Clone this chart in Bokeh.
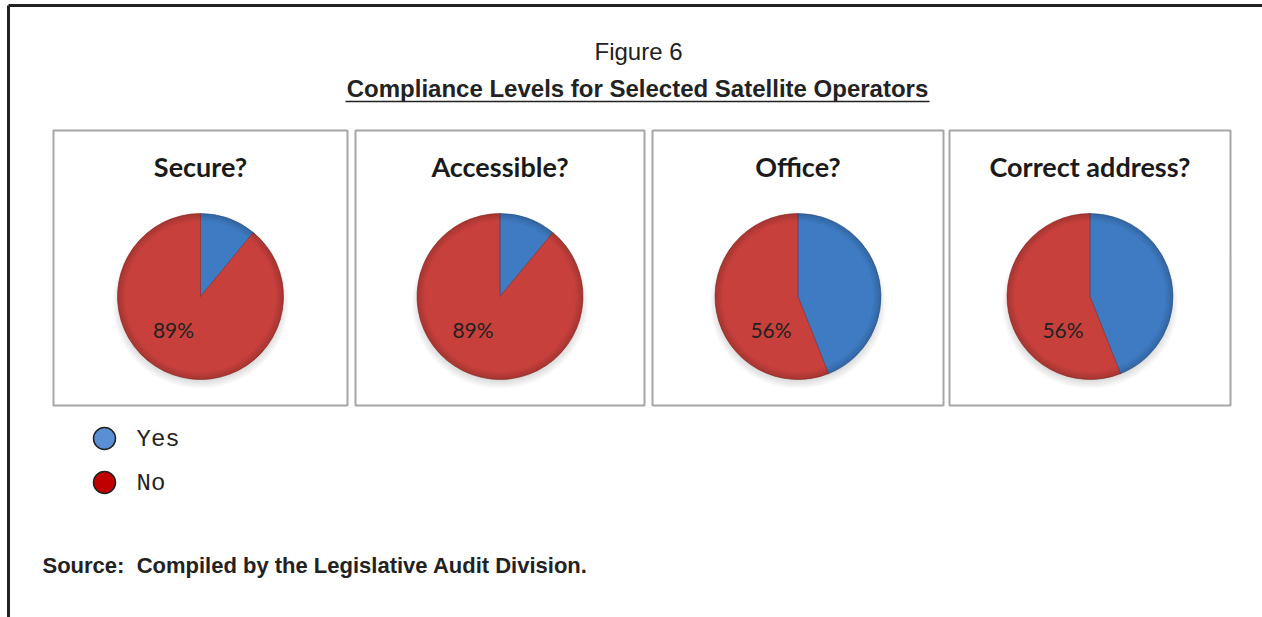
import numpy as np
from bokeh.plotting import figure
from bokeh.models import Range1d
from bokeh.core.properties import value
from bokeh.embed import file_html
from bokeh.resources import INLINE

# ---- data ----
questions = ["Secure?", "Accessible?", "Office?", "Correct address?"]
yes_pct = [11, 11, 44, 44]
no_pct = [89, 89, 56, 56]
series = ["Yes", "No"]
title_line1 = "Figure 6"
title_line2 = "Compliance Levels for Selected Satellite Operators"
source_text = "Source:\u00a0 Compiled by the Legislative Audit Division."

W, H = 1262, 617
def Y(y):
    return H - y

p = figure(width=W, height=H, x_range=Range1d(0, W), y_range=Range1d(0, H),
           output_backend="svg", toolbar_location=None, min_border=0)
p.axis.visible = False
p.grid.visible = False
p.outline_line_color = None
p.background_fill_color = "white"

SANS = value("Liberation Sans")

# outer frame (top and left)
p.line([8, W], [Y(5), Y(5)], line_color="#222222", line_width=3)
p.line([8, 8], [Y(5), Y(H)], line_color="#222222", line_width=3)

# titles
p.text([638], [Y(51)], text=[title_line1], text_font=SANS,
       text_font_size="24px", text_align="center", text_baseline="middle", text_color="#222222")
p.text([637], [Y(88)], text=[title_line2], text_font=SANS,
       text_font_size="24px", text_font_style="bold", text_align="center",
       text_baseline="middle", text_color="#222222")
p.line([345, 929], [Y(101), Y(101)], line_color="#222222", line_width=1.5)

# panels
panel_left = [53, 355, 652, 949]
panel_right = [347, 644, 943, 1230]
ptop, pbot = 130, 405
p.quad(left=panel_left, right=panel_right, top=[Y(ptop)] * 4, bottom=[Y(pbot)] * 4,
       fill_color="white", line_color="#a6a6a6", line_width=2)

blue = "#3e7bc3"
red = "#c8403c"
R = 83
for i, q in enumerate(questions):
    cx = (panel_left[i] + panel_right[i]) / 2
    cy = 296
    p.text([cx], [Y(166)], text=[q], text_font=value("Lato"), text_font_size="27px",
           text_font_style="bold", text_align="center", text_baseline="middle",
           text_color="#1a1a1a")
    # shadow
    for k in range(6):
        p.ellipse([cx], [Y(cy + 7)], width=2 * R + 10 - 3 * k, height=2 * R + 4 - 3 * k,
                  fill_color="#000000", fill_alpha=0.025, line_color=None)
    a_yes = 2 * np.pi * yes_pct[i] / 100
    top_ang = np.pi / 2
    # Yes slice clockwise from 12 o'clock
    p.wedge([cx], [Y(cy)], radius=R, start_angle=top_ang - a_yes, end_angle=top_ang,
            fill_color=blue, line_color="#2d5a90", line_width=0.6)
    p.wedge([cx], [Y(cy)], radius=R, start_angle=top_ang, end_angle=top_ang - a_yes + 2 * np.pi,
            fill_color=red, line_color="#8c2a27", line_width=0.6)
    # rim darkening for a 3D look
    for k in range(5):
        p.annular_wedge([cx], [Y(cy)], inner_radius=R - 1.5 - 1.5 * k, outer_radius=R,
                        start_angle=0, end_angle=2 * np.pi, fill_color="#000000",
                        fill_alpha=0.03, line_color=None)
    # label for No share
    p.text([cx - 27], [Y(329)], text=[f"{no_pct[i]}%"], text_font=value("Lato"),
           text_font_size="21px", text_align="center", text_baseline="middle",
           text_color="#222222")

# legend
leg_colors = ["#5a8fd6", "#c00000"]
leg_y = [438, 482]
p.scatter([104, 104], [Y(v) for v in leg_y], size=22, fill_color=leg_colors,
          line_color="#222222", line_width=1.5)
p.text([136, 136], [Y(v + 1) for v in leg_y], text=series, text_font=value("Liberation Mono"),
       text_font_size="24px", text_align="left", text_baseline="middle", text_color="#222222")

# source
p.text([42], [Y(565)], text=[source_text], text_font=SANS,
       text_font_size="22px", text_font_style="bold", text_align="left",
       text_baseline="middle", text_color="#222222")

open("out.html", "w").write(file_html(p, INLINE))
